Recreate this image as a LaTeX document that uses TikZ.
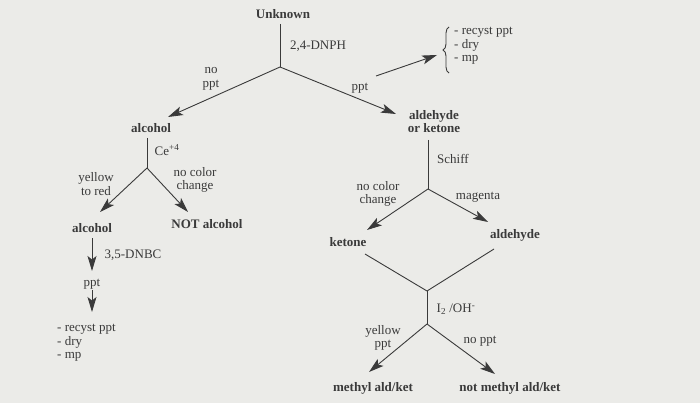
\documentclass[tikz,border=0pt]{standalone}
\usepackage{fontspec}
\setmainfont{Liberation Serif}
\usetikzlibrary{arrows.meta,decorations.pathreplacing}
\definecolor{bg}{HTML}{EBEBE8}
\definecolor{ink}{HTML}{3A3A3A}
\tikzset{
  txt/.style={inner sep=0pt, text=ink, font=\fontsize{13}{13.5}\selectfont, align=center},
  btxt/.style={txt, font=\fontsize{13}{13}\selectfont\bfseries},
  ln/.style={draw=ink, line width=0.9pt},
  arr/.style={ln, -{Stealth[length=15pt,width=9pt,inset=3.5pt]}}
}
\begin{document}
\begin{tikzpicture}[x=1pt,y=-1pt]
\fill[bg] (0,0) rectangle (700,403);
\useasboundingbox (0,0) rectangle (700,403);
% text nodes
\node[btxt] (unk) at (283,14) {Unknown};
\node[txt] (dnph) at (318,46) {2,4-DNPH};
\node[txt] (noppt) at (211,79) {no\\ppt};
\node[txt] (ppta) at (360,88) {ppt};
\node[txt, anchor=west, align=left] (recysta) at (454,46) {- recyst ppt\\- dry\\- mp};
\node[btxt, align=center] (aldket) at (434,122) {aldehyde\\or ketone};
\node[btxt] (alca) at (151,128) {alcohol};
\node[txt] (ce) at (167,150) {Ce\textsuperscript{+4}};
\node[txt] (yellowred) at (96,184) {yellow\\to red};
\node[txt] (nocola) at (195,180) {no color\\change};
\node[btxt] (alcb) at (92,228) {alcohol};
\node[btxt] (notalc) at (207,224) {NOT alcohol};
\node[txt] (dnbc) at (133,255) {3,5-DNBC};
\node[txt] (pptb) at (92,284) {ppt};
\node[txt, anchor=west, align=left] (recystb) at (57,343) {- recyst ppt\\- dry\\- mp};
\node[txt] (schiff) at (453,159) {Schiff};
\node[txt] (nocolb) at (378,194) {no color\\change};
\node[txt] (magenta) at (478,197) {magenta};
\node[btxt] (ketone) at (348,242) {ketone};
\node[btxt] (aldehyde) at (515,235) {aldehyde};
\node[txt] (iod) at (456,309) {I\textsubscript{2} /OH\textsuperscript{-}};
\node[txt] (yppt) at (383,338) {yellow\\ppt};
\node[txt] (nopptb) at (480,341) {no ppt};
\node[btxt] (methyl) at (373,388) {methyl ald/ket};
\node[btxt] (notmethyl) at (510,388) {not methyl ald/ket};
% junctions and tips
\coordinate (j1) at (280,67);
\coordinate (s1) at (280,24);
\coordinate (ta) at (168,117);
\coordinate (tb) at (396,114);
\coordinate (pa) at (376,76);
\coordinate (pb) at (437,55);
\coordinate (bra) at (449,73);
\coordinate (brb) at (449,27);
\coordinate (s2) at (147,138);
\coordinate (j2) at (147,168);
\coordinate (tc) at (100,212);
\coordinate (td) at (188,212);
\coordinate (s3) at (92,238);
\coordinate (te) at (92,271);
\coordinate (s4) at (92,290);
\coordinate (tf) at (92,312);
\coordinate (s5) at (428,140);
\coordinate (j3) at (428,189);
\coordinate (tg) at (367,230);
\coordinate (th) at (488,222);
\coordinate (s6) at (365,254);
\coordinate (s7) at (494,249);
\coordinate (j4) at (427,291);
\coordinate (j5) at (427,324);
\coordinate (ti) at (369,372);
\coordinate (tj) at (495,374);
% connectors
\draw[ln] (s1) -- (j1);
\draw[arr] (j1) -- (ta);
\draw[arr] (j1) -- (tb);
\draw[arr] (pa) -- (pb);
\draw[ink, line width=0.9pt, decorate, decoration={brace, amplitude=6pt}] (bra) -- (brb);
\draw[ln] (s2) -- (j2);
\draw[arr] (j2) -- (tc);
\draw[arr] (j2) -- (td);
\draw[arr] (s3) -- (te);
\draw[arr] (s4) -- (tf);
\draw[ln] (s5) -- (j3);
\draw[arr] (j3) -- (tg);
\draw[arr] (j3) -- (th);
\draw[ln] (s6) -- (j4);
\draw[ln] (s7) -- (j4);
\draw[ln] (j4) -- (j5);
\draw[arr] (j5) -- (ti);
\draw[arr] (j5) -- (tj);
\end{tikzpicture}
\end{document}
